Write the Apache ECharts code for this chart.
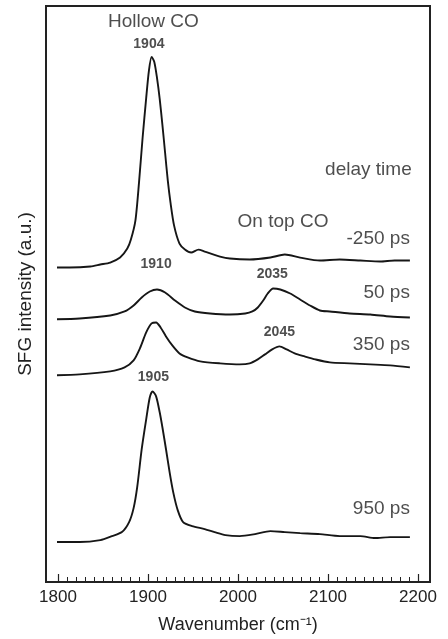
<!DOCTYPE html>
<html>
<head>
<meta charset="utf-8">
<script src="https://cdn.jsdelivr.net/npm/echarts@6/dist/echarts.min.js"></script>
<style>
  html, body { margin: 0; padding: 0; background: #fff; }
  #chart { width: 448px; height: 639px; }
</style>
</head>
<body>
<div id="chart"></div>
<script>
// SFG spectra, intensity in arbitrary units
const trace250neg = [
  [1791, 315], [1813, 315], [1836, 316], [1847, 318], [1858, 320], [1869, 325],
  [1877, 334], [1881, 343], [1886, 362], [1890, 400], [1894, 445], [1898, 485],
  [1901, 512], [1904, 526], [1907, 521], [1910, 505], [1913, 484], [1916, 458],
  [1919, 430], [1922, 402], [1925, 380], [1929, 357], [1935, 339], [1941, 333],
  [1948, 330], [1956, 333], [1963, 331], [1980, 326], [1991, 324], [2013, 323],
  [2036, 325], [2052, 328], [2069, 325], [2091, 322], [2113, 323], [2136, 322],
  [2158, 321], [2174, 322], [2191, 322]
];
const trace50 = [
  [1791, 263], [1824, 264], [1858, 267], [1874, 271], [1884, 277], [1893, 285],
  [1902, 291], [1910, 293], [1919, 290], [1930, 282], [1941, 275], [1952, 271],
  [1969, 269], [1991, 268], [2008, 269], [2016, 271], [2022, 275], [2028, 282],
  [2033, 289], [2039, 294], [2047, 293], [2058, 289], [2069, 283], [2080, 277],
  [2091, 272], [2102, 271], [2124, 269], [2147, 268], [2169, 266], [2191, 265]
];
const trace350 = [
  [1791, 207], [1824, 208], [1858, 211], [1874, 215], [1884, 222], [1891, 234],
  [1898, 250], [1904, 259], [1909, 260], [1914, 255], [1920, 246], [1927, 237],
  [1935, 229], [1944, 225], [1958, 221], [1980, 219], [2002, 218], [2013, 219],
  [2022, 223], [2030, 228], [2038, 233], [2046, 236], [2054, 233], [2063, 229],
  [2074, 226], [2086, 223], [2102, 220], [2124, 219], [2147, 218], [2169, 217],
  [2191, 215]
];
const trace950 = [
  [1791, 40], [1824, 40], [1847, 42], [1860, 46], [1871, 50], [1879, 60],
  [1884, 74], [1888, 95], [1893, 133], [1898, 163], [1902, 185], [1905, 191],
  [1909, 186], [1913, 170], [1916, 155], [1920, 133], [1924, 110], [1928, 90],
  [1933, 72], [1939, 60], [1949, 56], [1963, 53], [1974, 50], [1986, 47],
  [2002, 46], [2019, 48], [2036, 51], [2052, 50], [2069, 49], [2091, 48],
  [2113, 46], [2136, 46], [2152, 44], [2169, 45], [2191, 45]
];

// annotations: text and where it sits in data space
const noteText = ["Hollow CO", "1904", "delay time", "On top CO", "-250 ps", "1910", "2035", "50 ps", "2045", "350 ps", "1905", "950 ps"];
const noteWave = [1906, 1901, 2193, 2050, 2191, 1909, 2038, 2191, 2046, 2191, 1906, 2191];
const noteInt  = [561, 539, 413, 361, 344, 318, 308, 290, 250, 238, 205, 73];
const noteKind = ["big", "peak", "right", "big", "right", "peak", "peak", "right", "peak", "right", "peak", "right"];

const FONT = "'Liberation Sans', Arial, sans-serif";
const INK = "#161616";

function noteData() {
  return noteText.map((t, i) => {
    const kind = noteKind[i];
    return {
      value: [noteWave[i], noteInt[i]],
      label: {
        show: true,
        position: "inside",
        formatter: t,
        align: kind === "right" ? "right" : "center",
        verticalAlign: "middle",
        fontFamily: FONT,
        fontSize: kind === "peak" ? 14 : 19,
        fontWeight: kind === "peak" ? "bold" : "normal",
        color: "#222",
      },
    };
  });
}

function spectrum(name, data) {
  return {
    type: "line",
    name,
    xAxisIndex: 1,
    yAxisIndex: 1,
    data,
    showSymbol: false,
    smooth: 0.25,
    lineStyle: { color: INK, width: 1.9 },
    silent: true,
  };
}

const chart = echarts.init(document.getElementById("chart"), null, { renderer: "canvas" });

const option = {
  animation: false,
  backgroundColor: "#fff",
  grid: [
    { left: 46, right: 18, top: 6, bottom: 57, show: true, borderColor: "#222", borderWidth: 2, backgroundColor: "transparent" },
    { left: 58, right: 30, top: 6, bottom: 57 },
  ],
  xAxis: [
    { gridIndex: 0, type: "value", min: 0, max: 1, show: false },
    {
      gridIndex: 1,
      type: "value",
      min: 1800,
      max: 2200,
      interval: 100,
      axisLine: { show: false },
      axisTick: { show: true, inside: true, length: 7, lineStyle: { color: "#222", width: 1.2 } },
      minorTick: { show: true, splitNumber: 10, length: 4, lineStyle: { color: "#222", width: 1 } },
      splitLine: { show: false },
      axisLabel: { margin: 8, fontFamily: FONT, fontSize: 17, color: "#222", formatter: (v) => String(v) },
      name: "Wavenumber (cm\u207B\u00B9)",
      nameLocation: "middle",
      nameGap: 35,
      nameTextStyle: { fontFamily: FONT, fontSize: 18, color: "#222" },
    },
  ],
  yAxis: [
    {
      gridIndex: 0,
      type: "value",
      min: 0,
      max: 1,
      axisLine: { show: false },
      axisTick: { show: false },
      axisLabel: { show: false },
      splitLine: { show: false },
      name: "SFG intensity (a.u.)",
      nameLocation: "middle",
      nameGap: 11,
      nameTextStyle: { fontFamily: FONT, fontSize: 19, color: "#222" },
    },
    {
      gridIndex: 1,
      type: "value",
      min: 1,
      max: 577,
      show: false,
    },
  ],
  series: [
    spectrum("-250 ps", trace250neg),
    spectrum("50 ps", trace50),
    spectrum("350 ps", trace350),
    spectrum("950 ps", trace950),
    {
      type: "scatter",
      name: "notes",
      xAxisIndex: 1,
      yAxisIndex: 1,
      symbolSize: 0,
      silent: true,
      data: noteData(),
    },
  ],
};
chart.setOption(option);
</script>
</body>
</html>
